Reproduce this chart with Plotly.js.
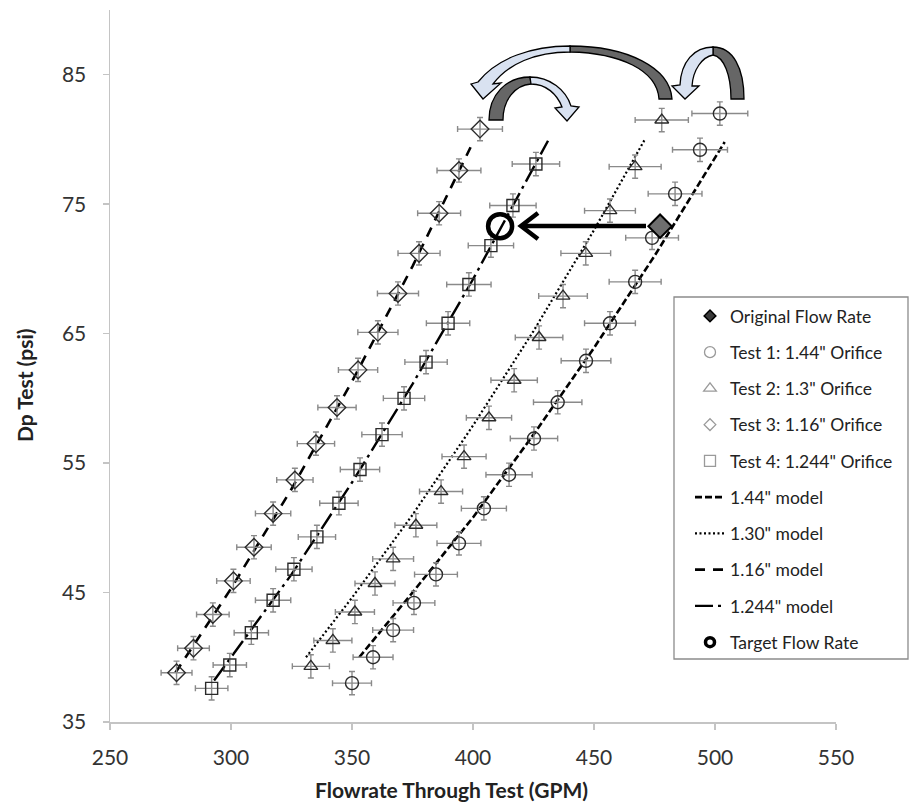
<!DOCTYPE html>
<html>
<head>
<meta charset="utf-8">
<script src="https://cdn.plot.ly/plotly-3.0.1.min.js"></script>
<style>html,body{margin:0;padding:0;background:#fff;}#chart{width:911px;height:805px;}</style>
</head>
<body>
<div id="chart"></div>
<script>
// ---- data ----
const test1X = [350, 358.7, 367, 375.6, 384.7, 394.2, 404.5, 414.9, 425.2, 435, 446.7, 456.6, 467, 474, 483.5, 493.8, 502];
const test1Y = [38.0, 40.0, 42.1, 44.2, 46.4, 48.8, 51.5, 54.1, 56.9, 59.7, 62.9, 65.8, 69.0, 72.4, 75.8, 79.2, 82.0];

const test2X = [333, 342.1, 351.2, 359.5, 367, 376.4, 386.8, 396.3, 406.6, 417, 427.3, 437.2, 446.6, 456.6, 467, 478];
const test2Y = [39.3, 41.3, 43.5, 45.7, 47.6, 50.2, 52.8, 55.5, 58.5, 61.4, 64.7, 67.9, 71.2, 74.5, 77.9, 81.5];

const test3X = [277.5, 284.5, 292.5, 301, 309.5, 317.4, 326.4, 335.1, 343.8, 352.5, 360.7, 369, 377.7, 386, 394.2, 402.9];
const test3Y = [38.8, 40.7, 43.3, 45.9, 48.5, 51.1, 53.7, 56.5, 59.3, 62.2, 65.1, 68.1, 71.2, 74.3, 77.6, 80.8];

const test4X = [292, 299.5, 308.4, 317.4, 326, 335.5, 344.6, 353.3, 362.4, 371.5, 380.6, 389.7, 398.3, 407.4, 416.5, 426];
const test4Y = [37.6, 39.4, 41.9, 44.4, 46.8, 49.3, 51.9, 54.5, 57.2, 60.0, 62.8, 65.8, 68.8, 71.8, 74.9, 78.1];

const model144X = [353, 375, 400, 425, 450, 475, 504];
const model144Y = [40.0, 45.0, 50.8, 57.2, 63.9, 71.0, 79.8];
const model130X = [331, 350, 375, 400, 425, 450, 471];
const model130Y = [40.0, 44.6, 51.0, 57.9, 65.2, 73.0, 80.0];
const model116X = [277, 300, 325, 350, 375, 399];
const model116Y = [38.8, 45.3, 53.0, 61.3, 70.2, 79.4];
const model1244X = [293, 325, 350, 375, 400, 431];
const model1244Y = [38.2, 46.4, 53.5, 61.1, 69.2, 79.9];

const originalX = [477.3];
const originalY = [73.3];
const targetX = [411.2];
const targetY = [73.3];

const xTicks = [250, 300, 350, 400, 450, 500, 550];
const yTicks = [35, 45, 55, 65, 75, 85];

const legendNames = ["Original Flow Rate", "Test 1: 1.44\" Orifice", "Test 2: 1.3\" Orifice",
  "Test 3: 1.16\" Orifice", "Test 4: 1.244\" Orifice", "1.44\" model", "1.30\" model",
  "1.16\" model", "1.244\" model", "Target Flow Rate"];

// ---- styling ----
const FONT = "Lato, 'Open Sans', sans-serif";
const W = 911, H = 805;
const M = {l: 110, r: 75, t: 10, b: 83};
const XR = [250, 550], YR = [35, 90];
const pw = W - M.l - M.r, ph = H - M.t - M.b;
// pixel -> data / paper (for decorative arrows and legend frame)
const dx = px => XR[0] + (px - M.l) * (XR[1] - XR[0]) / pw;
const dy = py => YR[1] - (py - M.t) * (YR[1] - YR[0]) / ph;
const px2p = px => (px - M.l) / pw;
const py2p = py => (H - M.b - py) / ph;
function path(cmds, close) {
  let s = '';
  cmds.forEach(c => {
    s += c[0];
    const nums = [];
    for (let i = 1; i < c.length; i += 2) nums.push(dx(c[i]).toFixed(3) + ',' + dy(c[i + 1]).toFixed(3));
    s += nums.join(' ') + ' ';
  });
  return s + (close === false ? '' : 'Z');
}

const errX = {type: 'percent', value: 2.3, color: '#8a8a8a', thickness: 1.4, width: 3};
const errY = {type: 'constant', value: 0.9, color: '#8a8a8a', thickness: 1.4, width: 3};
const mk = '#2b2b2b';
const lg = '#9a9a9a';

const traces = [];
// legend entries (marker styling as in the legend)
function legendOnly(name, marker) {
  traces.push({x: [null], y: [null], type: 'scatter', mode: 'markers', name: name,
    legendgroup: name, marker: marker, hoverinfo: 'skip'});
}
legendOnly(legendNames[0], {symbol: 'diamond', size: 9, color: '#3a3a3a', line: {color: '#000', width: 1.5}});
legendOnly(legendNames[1], {symbol: 'circle-open', size: 11, color: lg, line: {width: 1.3}});
legendOnly(legendNames[2], {symbol: 'triangle-up-open', size: 11, color: lg, line: {width: 1.3}});
legendOnly(legendNames[3], {symbol: 'diamond-open', size: 9, color: lg, line: {width: 1.3}});
legendOnly(legendNames[4], {symbol: 'square-open', size: 11, color: lg, line: {width: 1.3}});

function model(name, xs, ys, dash, w) {
  traces.push({x: xs, y: ys, type: 'scatter', mode: 'lines', name: name, legendgroup: name,
    line: {color: '#000', width: w, dash: dash}, hoverinfo: 'skip'});
}
model(legendNames[5], model144X, model144Y, '7px,3px', 2.6);
model(legendNames[6], model130X, model130Y, '2px,2.5px', 2.2);
model(legendNames[7], model116X, model116Y, '10px,8px', 2.6);
model(legendNames[8], model1244X, model1244Y, '18px,5px,3px,5px', 2.4);
legendOnly(legendNames[9], {symbol: 'circle-open', size: 9, color: '#000', line: {width: 3.5}});

function data(xs, ys, symbol, size) {
  traces.push({x: xs, y: ys, type: 'scatter', mode: 'markers', showlegend: false,
    marker: {symbol: symbol, size: size, color: mk, line: {width: 1.4}},
    error_x: errX, error_y: errY, hoverinfo: 'x+y'});
}
data(test1X, test1Y, 'circle-open', 13);
data(test2X, test2Y, 'triangle-up-open', 12);
data(test3X, test3Y, 'diamond-open', 13.5);
data(test4X, test4Y, 'square-open', 12);
traces.push({x: originalX, y: originalY, type: 'scatter', mode: 'markers', showlegend: false,
  marker: {symbol: 'diamond', size: 18, color: '#6e6e6e', line: {color: '#000', width: 2}}});
traces.push({x: targetX, y: targetY, type: 'scatter', mode: 'markers', showlegend: false,
  marker: {symbol: 'circle-open', size: 24, color: '#000', line: {width: 4.5}}});

// decorative curved arrows (pixel geometry -> data)
const DARK = '#666666', LIGHT = '#d9e2f1', EDGE = {color: '#000', width: 1.3};
const shapes = [
  // legend frame
  {type: 'rect', xref: 'paper', yref: 'paper', layer: 'below',
   x0: px2p(674), x1: px2p(908), y0: py2p(659), y1: py2p(297),
   fillcolor: '#fff', line: {color: '#8c8c8c', width: 1.3}},
  // arrow A (small, left)
  {type: 'path', xref: 'x', yref: 'y', fillcolor: DARK, line: EDGE,
   path: path([['M', 489, 120], ['C', 489, 95, 506, 77, 530, 77], ['L', 531, 84], ['C', 515, 85, 503, 100, 503, 120]])},
  {type: 'path', xref: 'x', yref: 'y', fillcolor: LIGHT, line: EDGE,
   path: path([['M', 530, 77], ['C', 550, 77, 566, 90, 571, 106], ['L', 579, 107], ['L', 567, 121], ['L', 555, 108], ['L', 562, 107], ['C', 557, 94, 546, 84, 531, 84]])},
  // arrow B (large)
  {type: 'path', xref: 'x', yref: 'y', fillcolor: DARK, line: EDGE,
   path: path([['M', 672, 99], ['C', 670, 68, 628, 46, 570, 46], ['L', 570, 52], ['C', 620, 53, 657, 70, 659, 99]])},
  {type: 'path', xref: 'x', yref: 'y', fillcolor: LIGHT, line: EDGE,
   path: path([['M', 570, 46], ['C', 532, 46, 497, 58, 478, 82], ['L', 471, 84], ['L', 483, 99], ['L', 501, 83], ['L', 493, 84], ['C', 508, 64, 535, 52, 570, 52]])},
  // arrow C (small, right)
  {type: 'path', xref: 'x', yref: 'y', fillcolor: DARK, line: EDGE,
   path: path([['M', 744, 99], ['C', 744, 68, 733, 47, 713, 47], ['L', 713, 55], ['C', 724, 57, 731, 75, 731, 99]])},
  {type: 'path', xref: 'x', yref: 'y', fillcolor: LIGHT, line: EDGE,
   path: path([['M', 713, 47], ['C', 694, 47, 681, 62, 680, 85], ['L', 672, 86], ['L', 685, 99], ['L', 699, 86], ['L', 692, 86], ['C', 693, 70, 702, 57, 713, 55]])},
  // straight arrow original -> target
  {type: 'line', xref: 'x', yref: 'y', x0: dx(646), y0: dy(226), x1: dx(522), y1: dy(226),
   line: {color: '#000', width: 4.5}},
  {type: 'path', xref: 'x', yref: 'y', line: {color: '#000', width: 4.5}, fillcolor: 'rgba(0,0,0,0)',
   path: path([['M', 538, 213], ['L', 521, 226], ['L', 538, 239]], false)}
];

const axisCommon = {showgrid: false, zeroline: false, showline: true, linecolor: '#c4c4c4', linewidth: 1.5,
  ticks: 'outside', ticklen: 6, tickcolor: '#c4c4c4', tickwidth: 1.5,
  tickfont: {family: FONT, size: 21, color: '#333'}, fixedrange: true};

const layout = {
  width: W, height: H, margin: M, paper_bgcolor: '#fff', plot_bgcolor: '#fff',
  font: {family: FONT, color: '#222'},
  xaxis: Object.assign({}, axisCommon, {range: XR, tickmode: 'array', tickvals: xTicks,
    ticktext: xTicks.map(String), ticklabelstandoff: 10}),
  yaxis: Object.assign({}, axisCommon, {range: YR, tickmode: 'array', tickvals: yTicks,
    ticktext: yTicks.map(String), ticklabelstandoff: 12}),
  showlegend: true,
  legend: {x: px2p(690), y: py2p(298), xanchor: 'left', yanchor: 'top',
    bgcolor: 'rgba(0,0,0,0)', borderwidth: 0, tracegroupgap: 10.5,
    font: {family: FONT, size: 17.5, color: '#222'}},
  shapes: shapes,
  annotations: [
    {text: '<b>Flowrate Through Test (GPM)</b>', xref: 'paper', yref: 'paper',
     x: px2p(451), y: py2p(790), xanchor: 'center', yanchor: 'middle',
     showarrow: false, font: {family: FONT, size: 21, color: '#222'}},
    {text: '<b>Dp Test (psi)</b>', xref: 'paper', yref: 'paper', textangle: -90,
     x: px2p(24), y: py2p(385), xanchor: 'center', yanchor: 'middle',
     showarrow: false, font: {family: FONT, size: 21, color: '#222'}}
  ]
};

Plotly.newPlot('chart', traces, layout, {displayModeBar: false, staticPlot: true});
</script>
</body>
</html>
